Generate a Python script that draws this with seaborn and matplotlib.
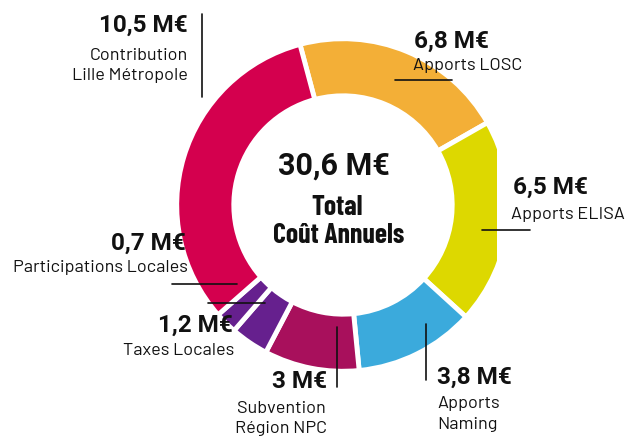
import matplotlib
matplotlib.use("Agg")
import matplotlib.pyplot as plt
import seaborn as sns
from matplotlib.lines import Line2D
from matplotlib import font_manager

# ---- data ----
categories = ["Apports LOSC", "Apports ELISA", "Apports Naming", "Subvention Région NPC",
              "Taxes Locales", "Participations Locales", "Contribution Lille Métropole"]
values = [6.8, 6.5, 3.8, 3.0, 1.2, 0.7, 10.5]
value_labels = ["6,8 M€", "6,5 M€", "3,8 M€", "3 M€", "1,2 M€", "0,7 M€", "10,5 M€"]
colors = ["#F3AF37", "#DDD800", "#3BAADC", "#A8105C", "#66208E", "#66208E", "#D4004E"]
total_label = "30,6 M€"
total_title = ["Total", "Coût Annuels"]

sns.set_theme(style="white")
fonts = font_manager.fontManager.ttflist
avail = {f.name for f in fonts}
bold_avail = {f.name for f in fonts if isinstance(f.weight, int) and f.weight >= 600}


def pick(cands, pool, default="DejaVu Sans"):
    for c in cands:
        if c in pool:
            return c
    return default


din = pick(["Barlow", "Roboto", "Open Sans"], avail)
bold_font = pick(["Roboto", "Open Sans"], bold_avail)
narrow = pick(["Barlow Condensed", "Roboto Condensed", "Oswald", "Archivo Narrow",
               "Saira Condensed", "Sofia Sans Condensed"], bold_avail, bold_font)
plt.rcParams["font.family"] = [din, "DejaVu Sans"]

W, H = 630, 439
fig = plt.figure(figsize=(W / 100, H / 100), dpi=100)
fig.patch.set_facecolor("white")

cx, cy, r = 343, 206, 163
clip_x = 497
ax = fig.add_axes([0, 0, clip_x / W, 1])
wedges, _ = ax.pie(values, colors=colors, startangle=105, counterclock=False, radius=1.02,
                   wedgeprops=dict(width=0.35, edgecolor="white", linewidth=3.5),
                   shadow=dict(ox=5, oy=-6, facecolor="#bbbbbb", edgecolor="none", alpha=0.5))
for p in ax.patches:
    p.set_clip_on(True)
    p.set_clip_box(ax.bbox)
ax.set_aspect("auto")
ax.set_xlim(-cx / r, (clip_x - cx) / r)
ax.set_ylim((cy - H) / r, cy / r)
ax.axis("off")


def T(x, y, s, **kw):
    fig.text(x / W, 1 - y / H, s, va="baseline", color="#111111", **kw)


def V(x, y, s, ha):
    T(x, y, s, ha=ha, fontsize=17.5, fontweight="bold", family=[bold_font, "DejaVu Sans"])


def L(x0, y0, x1, y1):
    fig.add_artist(Line2D([x0 / W, x1 / W], [1 - y0 / H, 1 - y1 / H],
                          transform=fig.transFigure, color="#111111", lw=1.2))


ns = 13
# Contribution Lille Métropole
V(188, 32, value_labels[6], "right")
T(188, 60, "Contribution", ha="right", fontsize=ns)
T(188, 80, "Lille Métropole", ha="right", fontsize=ns)
L(202, 15, 202, 98)
# Apports LOSC
V(414, 48, value_labels[0], "left")
T(413, 70, "Apports LOSC", ha="left", fontsize=ns)
L(395, 81, 452, 81)
# Apports ELISA
V(513, 194, value_labels[1], "left")
T(511, 219, "Apports ELISA", ha="left", fontsize=ns)
L(482, 231, 530, 231)
# Participations Locales
V(186, 250, value_labels[5], "right")
T(188, 272, "Participations Locales", ha="right", fontsize=ns)
L(172, 285, 237, 285)
# Taxes Locales
V(233, 332, value_labels[4], "right")
T(234, 355, "Taxes Locales", ha="right", fontsize=ns)
L(208, 304, 265, 304)
# Subvention Région NPC
V(327, 388, value_labels[3], "right")
T(281, 413, "Subvention", ha="center", fontsize=ns)
T(281, 433, "Région NPC", ha="center", fontsize=ns)
L(337, 328, 337, 388)
# Apports Naming
V(437, 384, value_labels[2], "left")
T(437, 408, "Apports", ha="left", fontsize=ns)
T(437, 429, "Naming", ha="left", fontsize=ns)
L(426, 325, 426, 381)
# Centre
T(334, 175, total_label, ha="center", fontsize=22, fontweight="bold", family=[bold_font, "DejaVu Sans"])
T(337, 215, total_title[0], ha="center", fontsize=20, fontweight="bold", family=[narrow, "DejaVu Sans"])
T(339, 243, total_title[1], ha="center", fontsize=20, fontweight="bold", family=[narrow, "DejaVu Sans"])

fig.savefig("out.png", dpi=100)
